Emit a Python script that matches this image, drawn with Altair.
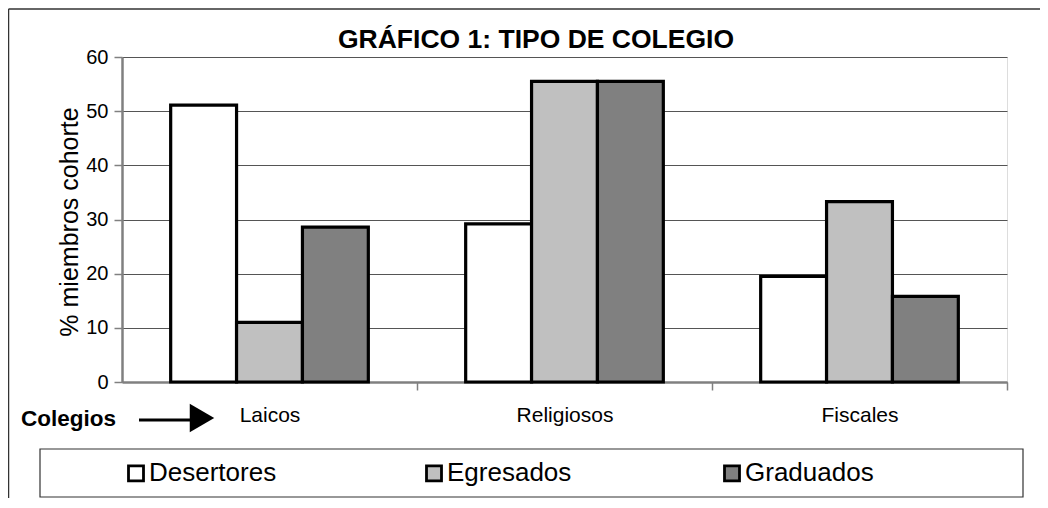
import altair as alt
import pandas as pd

categories = ["Laicos", "Religiosos", "Fiscales"]
series = ["Desertores", "Egresados", "Graduados"]
desertores = [51.1, 29.2, 19.5]
egresados = [11.0, 55.5, 33.3]
graduados = [28.6, 55.5, 15.8]
colors = ["#FFFFFF", "#C0C0C0", "#808080"]
y_ticks = [0, 10, 20, 30, 40, 50, 60]

rows = []
for s, vals in zip(series, [desertores, egresados, graduados]):
    for c, v in zip(categories, vals):
        rows.append({"Colegio": c, "Grupo": s, "Valor": v})
df = pd.DataFrame(rows)

FONT = "Liberation Sans"
W, H = 885, 325
STEP = W / len(categories)

bars = alt.Chart(df).mark_bar(stroke="black", strokeWidth=3.2, strokeJoin="miter").encode(
    x=alt.X("Colegio:N", sort=categories,
            scale=alt.Scale(paddingInner=0.33, paddingOuter=0.165),
            axis=alt.Axis(title=None, labelAngle=0, labelFontSize=21, labelFont=FONT,
                          labelColor="black", labelPadding=14, tickSize=8,
                          tickOffset=STEP / 2, labelOffset=-STEP / 2,
                          tickColor="#808080", tickWidth=1.5,
                          domainColor="#808080", domainWidth=2.5, grid=False)),
    xOffset=alt.XOffset("Grupo:N", sort=series),
    y=alt.Y("Valor:Q", scale=alt.Scale(domain=[0, 60], nice=False),
            axis=alt.Axis(values=y_ticks, title="% miembros cohorte", titleFontSize=25,
                          titleFont=FONT, titleFontWeight="normal", titleColor="black",
                          titleX=-53, titleY=H / 2 + 2, titleAngle=270, titleAlign="center",
                          titleBaseline="middle",
                          labelFontSize=20, labelFont=FONT, labelColor="black",
                          labelPadding=6, tickSize=8, tickColor="#808080", tickWidth=1.5,
                          domainColor="#808080", domainWidth=2.5,
                          grid=True, gridColor="#555555", gridWidth=1)),
    fill=alt.Fill("Grupo:N", sort=series,
                  scale=alt.Scale(domain=series, range=colors),
                  legend=alt.Legend(title=None, orient="none", legendX=1, legendY=403,
                                    direction="horizontal", columns=3, gridAlign="all",
                                    columnPadding=142, symbolType="square", symbolSize=225,
                                    symbolStrokeColor="black", symbolStrokeWidth=2.8,
                                    labelFontSize=26, labelFont=FONT, labelColor="black",
                                    labelOffset=0, padding=0)),
)

one = pd.DataFrame({"k": [0]})

legend_box = alt.Chart(one).mark_rect(
    fill=None, stroke="#333333", strokeWidth=1.2).encode(
    x=alt.value(40 - 122), x2=alt.value(1023 - 122),
    y=alt.value(449 - 57), y2=alt.value(497 - 57))

frame_top = alt.Chart(one).mark_rule(color="#333333", strokeWidth=1.5).encode(
    x=alt.value(-113.5), x2=alt.value(920), y=alt.value(-48))
frame_left = alt.Chart(one).mark_rule(color="#333333", strokeWidth=1.5).encode(
    x=alt.value(-113.5), y=alt.value(-48), y2=alt.value(460))

title = alt.Chart(pd.DataFrame({"t": ["GRÁFICO 1: TIPO DE COLEGIO"]})).mark_text(
    font=FONT, fontSize=26.5, fontWeight="bold", align="center", baseline="alphabetic",
    color="black").encode(text="t:N", x=alt.value(536 - 122), y=alt.value(48 - 57))

colegios = alt.Chart(pd.DataFrame({"t": ["Colegios"]})).mark_text(
    font=FONT, fontSize=22.5, fontWeight="bold", align="left", baseline="alphabetic",
    color="black").encode(text="t:N", x=alt.value(21 - 122), y=alt.value(426 - 57))

arrow_line = alt.Chart(one).mark_rule(color="black", strokeWidth=3).encode(
    x=alt.value(139 - 122), x2=alt.value(192 - 122), y=alt.value(420 - 57))
arrow_head = alt.Chart(one).mark_point(
    shape="triangle-right", filled=True, color="black", size=800, opacity=1).encode(
    x=alt.value(202 - 122), y=alt.value(418 - 57))

chart = alt.layer(frame_top, frame_left, bars, legend_box, title, colegios,
                  arrow_line, arrow_head).properties(
    width=W, height=H,
    padding={"left": 114, "top": 49, "right": 33, "bottom": 116},
    autosize=alt.AutoSizeParams(type="none"),
).configure_view(stroke="#808080", strokeWidth=2.5).configure(background="white")

chart.save("out.html", embed_options={"renderer": "svg", "actions": False})
